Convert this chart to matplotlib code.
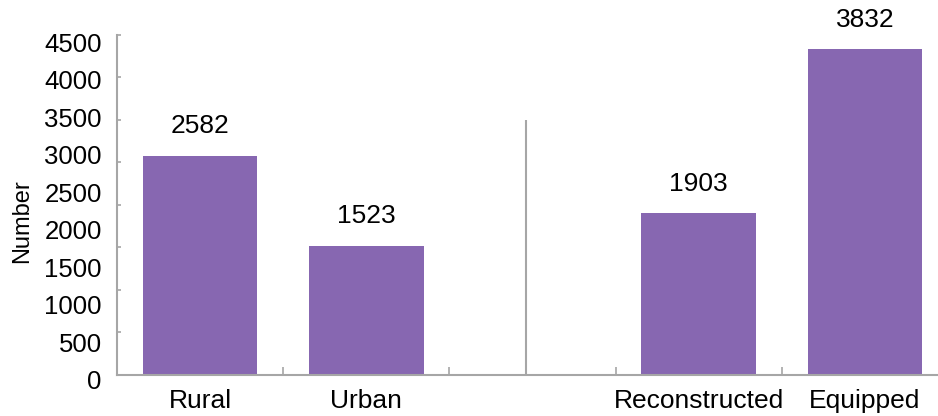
import numpy as np
import matplotlib
matplotlib.use('Agg')
import matplotlib.pyplot as plt
import matplotlib.transforms as mtransforms

plt.rcParams['font.family'] = ['Liberation Sans', 'DejaVu Sans']

categories = ['Rural', 'Urban', '', 'Reconstructed', 'Equipped']
values = [2582, 1523, np.nan, 1903, 3832]
label_values = [0, 500, 1000, 1500, 2000, 2500, 3000, 3500, 4000, 4500]
bar_color = '#8767B1'
axis_color = '#A6A6A6'


def plot_counts():
    fig = plt.figure(figsize=(9.38, 4.16), dpi=100)
    ax = fig.add_axes([0.1247, 0.0986, 0.886, 0.8173])

    x = np.arange(len(categories))
    ax.bar(x, values, width=0.69, color=bar_color, zorder=2)

    # value labels above bars
    for xi, v in zip(x, values):
        if np.isnan(v):
            continue
        ax.annotate(f'{v:.0f}', (xi, v), xytext=(0, 21), textcoords='offset points',
                    ha='center', va='center', fontsize=19)

    # divider between the two groups
    ax.vlines(1.96, 0, 3000, color=axis_color, lw=1.5)

    ax.set_xlim(-0.5, 4.5)
    ax.set_ylim(0, 4000)

    ax.set_xticks(x[:-1] + 0.5)
    ax.set_xticklabels([])
    ax.set_xticks([i for i, c in enumerate(categories) if c], minor=True)
    ax.set_xticklabels([c for c in categories if c], minor=True, fontsize=19)
    ax.tick_params(axis='x', which='major', direction='in', length=6, width=1.2, color=axis_color)
    ax.tick_params(axis='x', which='minor', length=0, pad=10)

    ax.set_yticks(np.arange(0, 4001, 500))
    ax.set_yticklabels([])
    ax.tick_params(axis='y', direction='in', length=3, width=1.2, color=axis_color)

    for side in ['top', 'right']:
        ax.spines[side].set_visible(False)
    for side in ['left', 'bottom']:
        ax.spines[side].set_color(axis_color)
        ax.spines[side].set_linewidth(1.5)

    # tick labels drawn on a twin scale
    ax2 = ax.twinx()
    ax2.set_ylim(0, 4527)
    ax2.yaxis.tick_left()
    ax2.set_yticks(label_values)
    ax2.set_yticklabels([str(v) for v in label_values], fontsize=18.5)
    ax2.tick_params(axis='y', length=0, pad=11)
    for s in ax2.spines.values():
        s.set_visible(False)
    shift = mtransforms.ScaledTranslation(0, -5 / 100, fig.dpi_scale_trans)
    for lbl in ax2.get_yticklabels():
        lbl.set_transform(lbl.get_transform() + shift)

    fig.text(0.024, 0.469, 'Number', rotation=90, ha='center', va='center', fontsize=17)

    fig.savefig('out.png', dpi=100)
    plt.close(fig)


if __name__ == '__main__':
    plot_counts()
